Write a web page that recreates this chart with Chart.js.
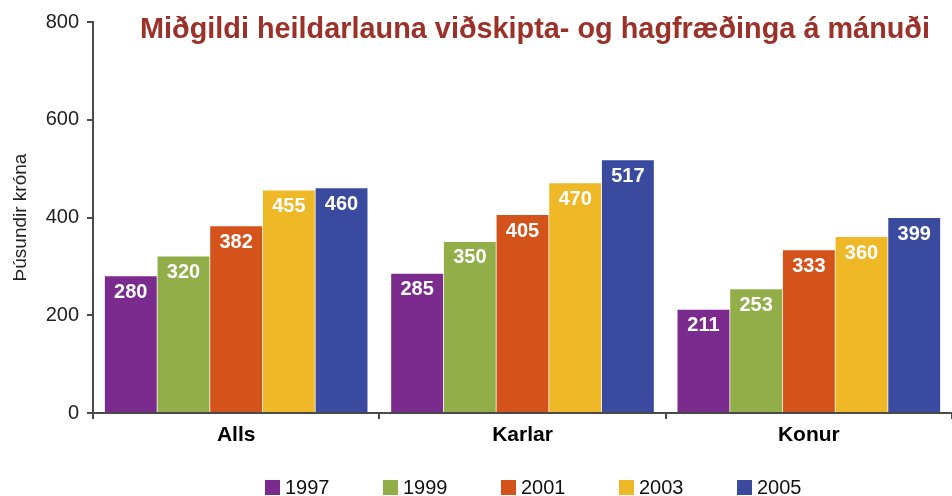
<!DOCTYPE html>
<html><head><meta charset="utf-8">
<script src="https://cdn.jsdelivr.net/npm/chart.js@4.4.1/dist/chart.umd.min.js"></script>
<style>html,body{margin:0;padding:0;background:#fff}#wrap{width:952px;height:496px}</style>
</head><body><div id="wrap"><canvas id="c" width="952" height="496"></canvas></div>
<script>
const categories = ["Alls", "Karlar", "Konur"];
const years = ["1997", "1999", "2001", "2003", "2005"];
const v1997 = [280, 285, 211];
const v1999 = [320, 350, 253];
const v2001 = [382, 405, 333];
const v2003 = [455, 470, 360];
const v2005 = [460, 517, 399];
const yTicks = [0, 200, 400, 600, 800];
const title = "Miðgildi heildarlauna viðskipta- og hagfræðinga á mánuði";
const yTitle = "Þúsundir króna";

const colors = ["#7b2b8e", "#92ae48", "#d4531b", "#efb826", "#3a4a9f"];
const series = [v1997, v1999, v2001, v2003, v2005];
const FONT = "'Liberation Sans', Arial, Helvetica, sans-serif";

const labelPlugin = {
  id: 'extras',
  afterDatasetsDraw(chart) {
    const ctx = chart.ctx;
    ctx.save();
    ctx.fillStyle = '#fff';
    ctx.font = 'bold 20px ' + FONT;
    ctx.textAlign = 'center';
    ctx.textBaseline = 'middle';
    chart.data.datasets.forEach((ds, i) => {
      chart.getDatasetMeta(i).data.forEach((bar, j) => {
        ctx.fillText(String(ds.data[j]), bar.x, bar.y + 16);
      });
    });
    ctx.restore();
  },
  afterDraw(chart) {
    const ctx = chart.ctx;
    ctx.save();
    // title
    ctx.fillStyle = '#9b3128';
    ctx.font = 'bold 30px ' + FONT;
    ctx.textAlign = 'left';
    ctx.textBaseline = 'alphabetic';
    const tw = ctx.measureText(title).width;
    const target = 790;
    ctx.translate(140, 38);
    ctx.scale(target / tw, 1);
    ctx.fillText(title, 0, 0);
    ctx.restore();
    // legend
    ctx.save();
    ctx.font = '20px ' + FONT;
    ctx.textBaseline = 'middle';
    ctx.textAlign = 'left';
    const step = 118;
    const start = 265;
    chart.data.datasets.forEach((ds, i) => {
      const x = start + i * step;
      const y = 487;
      ctx.fillStyle = ds.backgroundColor;
      ctx.fillRect(x, y - 7, 15, 15);
      ctx.fillStyle = '#111';
      ctx.fillText(ds.label, x + 20, y + 1);
    });
    ctx.restore();
  }
};

new Chart(document.getElementById('c'), {
  type: 'bar',
  data: {
    labels: categories,
    datasets: years.map((y, i) => ({
      label: y,
      data: series[i],
      backgroundColor: colors[i],
      borderWidth: 0,
      categoryPercentage: 0.92,
      barPercentage: 0.985
    }))
  },
  options: {
    responsive: false,
    animation: false,
    layout: { padding: { top: 22, right: 0, bottom: 43, left: 0 } },
    plugins: { legend: { display: false }, title: { display: false }, tooltip: { enabled: false } },
    scales: {
      x: {
        grid: { drawOnChartArea: false, tickLength: 6, color: '#4a4a4a', lineWidth: 2, offset: true },
        border: { color: '#4a4a4a', width: 2 },
        ticks: { color: '#000', font: { family: FONT, size: 21, weight: 'bold' }, padding: 4 },
        afterFit(s) { s.height = 40; }
      },
      y: {
        min: 0, max: 800,
        afterBuildTicks(s) { s.ticks = yTicks.map(v => ({ value: v })); },
        grid: { drawOnChartArea: false, tickLength: 6, color: '#4a4a4a', lineWidth: 2 },
        border: { color: '#4a4a4a', width: 2 },
        ticks: { color: '#222', font: { family: FONT, size: 20 }, padding: 8 },
        title: { display: true, text: yTitle, color: '#222', font: { family: FONT, size: 19 }, padding: { top: 9, bottom: 0 } },
        afterFit(s) { s.width = 93; }
      }
    }
  },
  plugins: [labelPlugin]
});
</script></body></html>
